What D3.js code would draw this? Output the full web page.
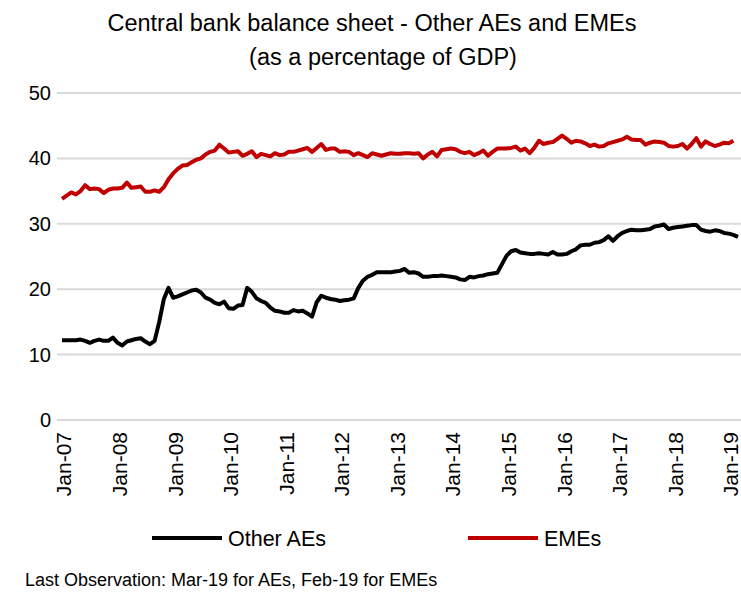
<!DOCTYPE html>
<html>
<head>
<meta charset="utf-8">
<script src="https://cdn.jsdelivr.net/npm/d3@7"></script>
<style>
  body { margin: 0; background: #fff; }
  text { font-family: "Liberation Sans", Arial, sans-serif; }
</style>
</head>
<body>
<div id="chart"></div>
<script>
// Monthly data, Jan-07 onward (% of GDP)
const otherAEs = [
  12.2, 12.2, 12.2, 12.2, 12.3, 12.1, 11.8, 12.1, 12.3, 12.1, 12.1, 12.6,
  11.8, 11.4, 12.0, 12.2, 12.4, 12.5, 12.0, 11.6, 12.1, 15.0, 18.5, 20.2,
  18.7, 18.9, 19.2, 19.5, 19.8, 19.9, 19.5, 18.7, 18.4, 17.9, 17.7, 18.1,
  17.1, 17.0, 17.5, 17.6, 20.2, 19.6, 18.6, 18.2, 17.9, 17.2, 16.7, 16.6,
  16.4, 16.4, 16.8, 16.6, 16.7, 16.3, 15.8, 18.0, 19.0, 18.7, 18.5, 18.4,
  18.2, 18.3, 18.4, 18.6, 20.2, 21.3, 21.9, 22.2, 22.6, 22.6, 22.6, 22.6,
  22.7, 22.8, 23.1, 22.5, 22.6, 22.4, 21.9, 21.9, 22.0, 22.0, 22.1, 22.0,
  21.9, 21.8, 21.5, 21.4, 21.9, 21.8, 22.0, 22.1, 22.3, 22.4, 22.5, 23.8,
  25.1, 25.8, 26.0, 25.6, 25.5, 25.4, 25.4, 25.5, 25.4, 25.3, 25.7, 25.3,
  25.3, 25.4, 25.8, 26.1, 26.7, 26.8, 26.8, 27.1, 27.2, 27.5, 28.1, 27.4,
  28.1, 28.6, 28.9, 29.1, 29.0, 29.0, 29.1, 29.2, 29.6, 29.7, 29.9, 29.2,
  29.4, 29.5, 29.6, 29.7, 29.8, 29.8, 29.1, 28.9, 28.8, 29.0, 28.9, 28.6,
  28.5, 28.3, 28.0
];
const emes = [
  33.8, 34.3, 34.8, 34.5, 35.0, 35.9, 35.3, 35.4, 35.3, 34.7, 35.2, 35.4,
  35.4, 35.5, 36.3, 35.5, 35.6, 35.7, 34.9, 34.9, 35.1, 34.9, 35.6, 36.8,
  37.7, 38.4, 38.9, 39.0, 39.4, 39.8, 40.0, 40.6, 41.0, 41.2, 42.1, 41.5,
  40.9, 41.0, 41.1, 40.4, 40.7, 41.1, 40.2, 40.7, 40.5, 40.3, 40.8, 40.5,
  40.6, 41.0, 41.0, 41.2, 41.4, 41.6, 41.0, 41.6, 42.2, 41.3, 41.5, 41.5,
  41.0, 41.1, 41.0, 40.5, 40.8, 40.5, 40.2, 40.8, 40.6, 40.4, 40.6, 40.8,
  40.7, 40.7, 40.8, 40.8, 40.7, 40.8, 40.0, 40.6, 41.0, 40.3, 41.3, 41.4,
  41.5, 41.4, 41.0, 40.8, 41.0, 40.5, 40.8, 41.2, 40.4, 41.0, 41.5, 41.5,
  41.5, 41.6, 41.8, 41.2, 41.5, 40.8, 41.6, 42.7, 42.2, 42.4, 42.5, 43.0,
  43.5, 43.0, 42.4, 42.7, 42.6, 42.3, 41.9, 42.1, 41.8, 41.9, 42.3, 42.5,
  42.7, 42.9, 43.3, 42.9, 42.8, 42.8, 42.1, 42.4, 42.6, 42.5, 42.4, 41.9,
  41.8, 41.9, 42.2, 41.5, 42.2, 43.1, 41.8, 42.6, 42.2, 41.9, 42.1, 42.4,
  42.3, 42.7
];
const xTickLabels = ["Jan-07", "Jan-08", "Jan-09", "Jan-10", "Jan-11", "Jan-12",
  "Jan-13", "Jan-14", "Jan-15", "Jan-16", "Jan-17", "Jan-18", "Jan-19"];
const yTicks = [0, 10, 20, 30, 40, 50];
const seriesNames = ["Other AEs", "EMEs"];
const seriesColors = ["#000000", "#c00000"];

const W = 741, H = 593;
const svg = d3.select("#chart").append("svg")
  .attr("width", W).attr("height", H);

// scales: month index -> x, value -> y
const x = d3.scaleLinear().domain([0, 146]).range([62, 738]);
const y = d3.scaleLinear().domain([0, 50]).range([420, 93]);

// title
svg.append("text").attr("x", 372).attr("y", 31)
  .attr("text-anchor", "middle").attr("font-size", 23.5)
  .text("Central bank balance sheet - Other AEs and EMEs");
svg.append("text").attr("x", 383).attr("y", 65)
  .attr("text-anchor", "middle").attr("font-size", 23.5)
  .text("(as a percentage of GDP)");

// gridlines
svg.append("g").selectAll("line")
  .data(yTicks).enter().append("line")
  .attr("x1", 57).attr("x2", W)
  .attr("y1", d => y(d)).attr("y2", d => y(d))
  .attr("stroke", "#d9d9d9").attr("stroke-width", 2);

// y axis labels
svg.append("g").selectAll("text")
  .data(yTicks).enter().append("text")
  .attr("x", 51).attr("y", d => y(d)).attr("dy", "0.35em")
  .attr("text-anchor", "end").attr("font-size", 20)
  .text(d => d);

// x axis labels (rotated)
svg.append("g").selectAll("text")
  .data(xTickLabels).enter().append("text")
  .attr("transform", (d, i) => `translate(${x(i * 12)},432) rotate(-90)`)
  .attr("dy", "0.45em")
  .attr("text-anchor", "end").attr("font-size", 21)
  .text(d => d);

// lines
const line = d3.line().x((d, i) => x(i)).y(d => y(d));
[otherAEs, emes].forEach((s, k) => {
  svg.append("path").datum(s)
    .attr("d", line)
    .attr("fill", "none")
    .attr("stroke", seriesColors[k])
    .attr("stroke-width", 4)
    .attr("stroke-linejoin", "round");
});

// legend
const legendX = [152, 468];
seriesNames.forEach((name, k) => {
  svg.append("line")
    .attr("x1", legendX[k]).attr("x2", legendX[k] + 70)
    .attr("y1", 538).attr("y2", 538)
    .attr("stroke", seriesColors[k]).attr("stroke-width", 4);
  svg.append("text")
    .attr("x", legendX[k] + 76).attr("y", 538).attr("dy", "0.35em")
    .attr("font-size", 21.5)
    .text(name);
});

// footnote
svg.append("text").attr("x", 25).attr("y", 586)
  .attr("font-size", 18)
  .text("Last Observation: Mar-19 for AEs, Feb-19 for EMEs");
</script>
</body>
</html>
